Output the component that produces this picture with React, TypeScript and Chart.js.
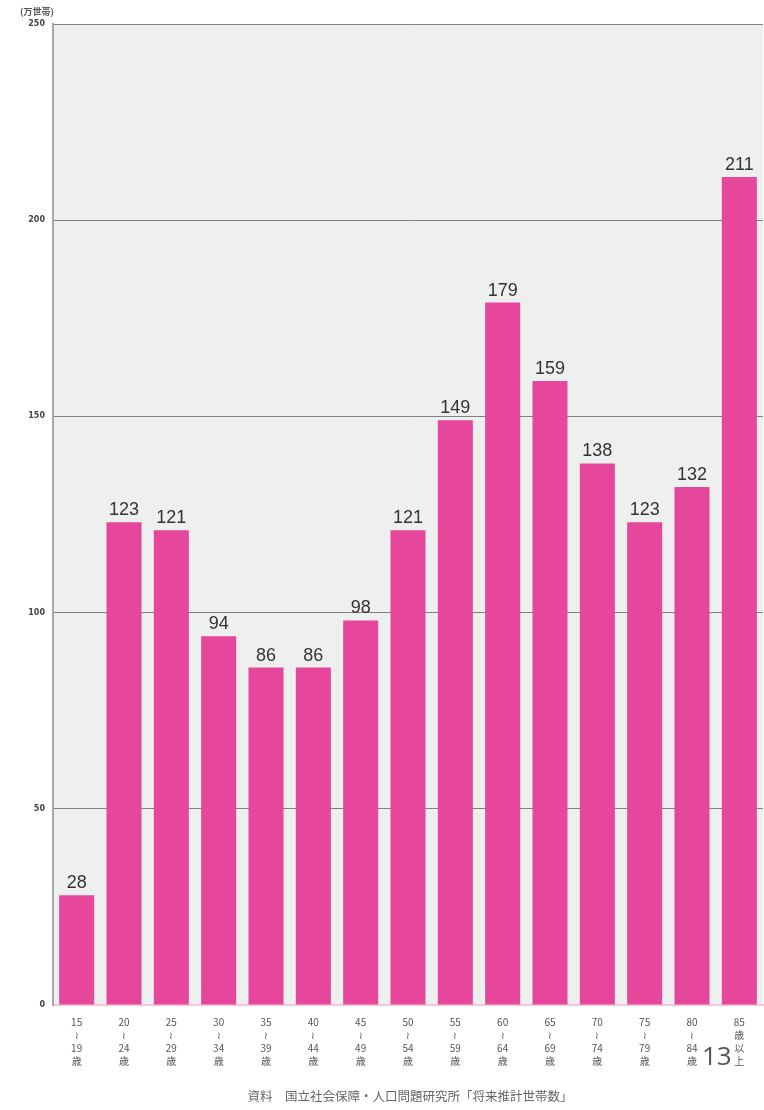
import React, { useEffect, useRef } from "react";
import { Chart, registerables } from "chart.js";

Chart.register(...registerables);

const categories: string[][] = [
  ["15", "≀", "19", "歳"],
  ["20", "≀", "24", "歳"],
  ["25", "≀", "29", "歳"],
  ["30", "≀", "34", "歳"],
  ["35", "≀", "39", "歳"],
  ["40", "≀", "44", "歳"],
  ["45", "≀", "49", "歳"],
  ["50", "≀", "54", "歳"],
  ["55", "≀", "59", "歳"],
  ["60", "≀", "64", "歳"],
  ["65", "≀", "69", "歳"],
  ["70", "≀", "74", "歳"],
  ["75", "≀", "79", "歳"],
  ["80", "≀", "84", "歳"],
  ["85", "歳", "以", "上"],
];
const households: number[] = [28, 123, 121, 94, 86, 86, 98, 121, 149, 179, 159, 138, 123, 132, 211];
const yTicks: number[] = [0, 50, 100, 150, 200, 250];
const unitLabel = "(万世帯)";
const sourceNote = "資料　国立社会保障・人口問題研究所「将来推計世帯数」";
const pageNumber = "13";

export default function App() {
  const ref = useRef<HTMLCanvasElement | null>(null);
  useEffect(() => {
    if (!ref.current) return;
    const bgPlugin = {
      id: "bg",
      beforeDraw(chart: any) {
        const { ctx, chartArea } = chart;
        ctx.save();
        ctx.fillStyle = "#ffffff";
        ctx.fillRect(0, 0, chart.width, chart.height);
        ctx.fillStyle = "#eeefef";
        ctx.fillRect(chartArea.left, chartArea.top, chartArea.right - chartArea.left, chartArea.bottom - chartArea.top);
        ctx.restore();
      },
      afterDraw(chart: any) {
        const { ctx } = chart;
        ctx.save();
        ctx.fillStyle = "#555";
        ctx.font = "bold 9px 'Noto Sans CJK JP'";
        ctx.textAlign = "left";
        ctx.textBaseline = "middle";
        ctx.fillText(unitLabel, 20, 12);
        ctx.fillStyle = "#666";
        ctx.font = "12.5px 'Noto Sans CJK JP'";
        ctx.textAlign = "center";
        ctx.fillText(sourceNote, 410, 1096);
        ctx.fillStyle = "#555";
        ctx.font = "26px 'Open Sans'";
        ctx.textAlign = "left";
        ctx.fillText(pageNumber, 702, 1058);
        ctx.restore();
      },
    };
    const labelPlugin = {
      id: "valueLabels",
      afterDatasetsDraw(chart: any) {
        const { ctx } = chart;
        const meta = chart.getDatasetMeta(0);
        ctx.save();
        ctx.fillStyle = "#333";
        ctx.font = "18px 'Liberation Sans'";
        ctx.textAlign = "center";
        ctx.textBaseline = "bottom";
        meta.data.forEach((bar: any, i: number) => {
          ctx.fillText(String(households[i]), bar.x, bar.y - 3);
        });
        ctx.restore();
      },
    };
    const chart = new Chart(ref.current, {
      type: "bar",
      data: {
        labels: categories,
        datasets: [
          {
            data: households,
            backgroundColor: "#e6479a",
            borderWidth: 0,
            barPercentage: 0.74,
            categoryPercentage: 1,
          },
        ],
      },
      options: {
        animation: false,
        responsive: false,
        maintainAspectRatio: false,
        layout: { padding: { top: 24, right: 1, bottom: 0, left: 0 } },
        plugins: { legend: { display: false }, tooltip: { enabled: false } },
        scales: {
          x: {
            grid: { display: false },
            border: { color: "#f3c6dc", width: 2 },
            ticks: {
              color: "#555",
              font: { size: 10, family: "'Noto Sans CJK JP'", lineHeight: 1.3 },
              padding: 3,
              maxRotation: 0,
              autoSkip: false,
            },
            afterFit(scale: any) {
              scale.height = 105;
            },
          },
          y: {
            min: 0,
            max: 250,
            afterBuildTicks(scale: any) {
              scale.ticks = yTicks.map((v) => ({ value: v }));
            },
            grid: { color: "#808080", lineWidth: 1, drawTicks: false },
            border: { color: "#a8a8a8", width: 2 },
            ticks: {
              color: "#444",
              font: { size: 8, weight: "bold", family: "'DejaVu Sans'" },
              padding: 8,
            },
            afterFit(scale: any) {
              scale.width = 53;
            },
          },
        },
      },
      plugins: [bgPlugin, labelPlugin],
    });
    return () => chart.destroy();
  }, []);
  return (
    <div style={{ position: "fixed", left: 0, top: 0, width: 764, height: 1110, background: "#fff" }}>
      <canvas ref={ref} width={764} height={1110} style={{ width: 764, height: 1110, display: "block" }} />
    </div>
  );
}
